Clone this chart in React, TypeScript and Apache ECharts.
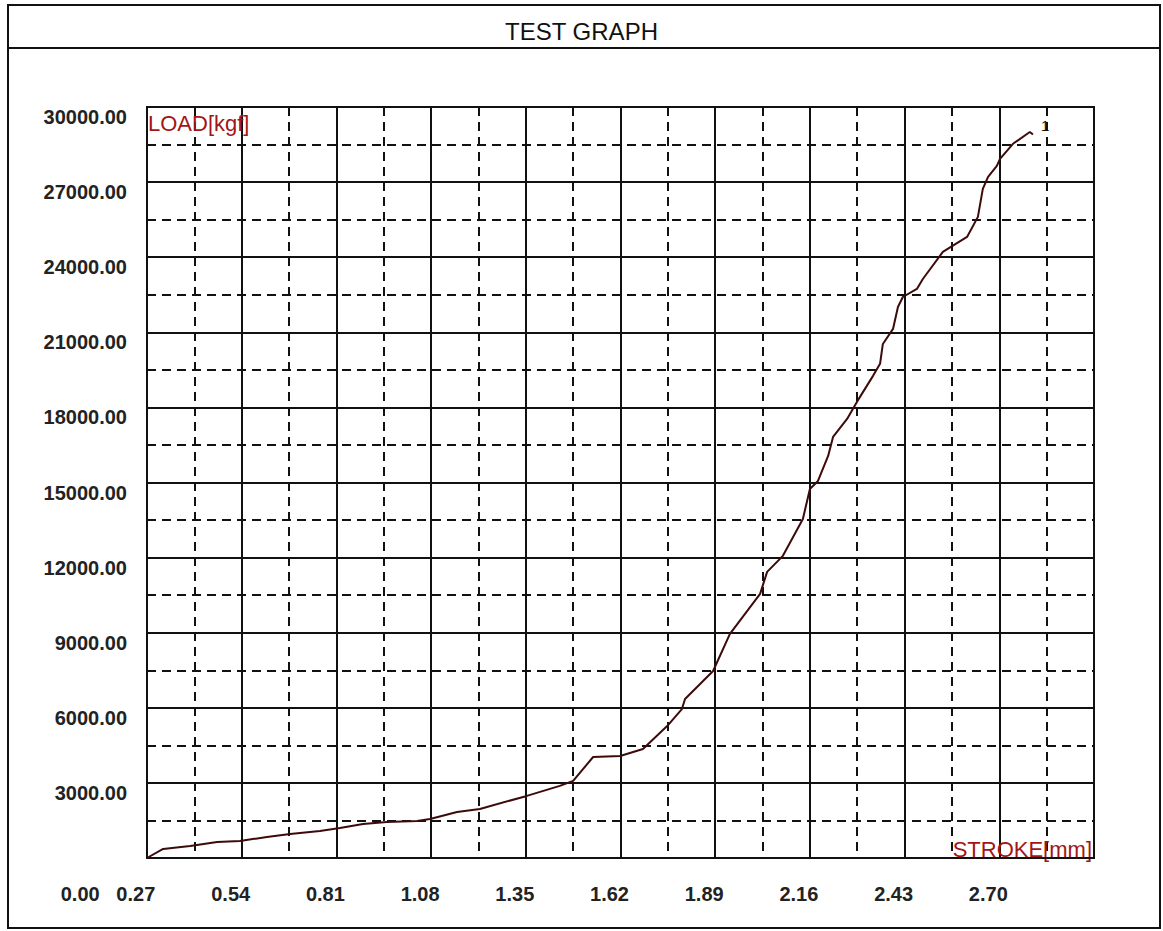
import React, { useEffect, useRef } from "react";
import * as echarts from "echarts";

const strokeMm = [
  0.27, 0.316, 0.393, 0.47, 0.535, 0.612, 0.678, 0.763, 0.82, 0.886, 0.954, 1.04, 1.077, 1.154,
  1.219, 1.353, 1.447, 1.485, 1.542, 1.619, 1.684, 1.753, 1.795, 1.804, 1.884, 1.932, 2.018,
  2.038, 2.083, 2.14, 2.16, 2.183, 2.212, 2.226, 2.266, 2.294, 2.34, 2.36, 2.368, 2.397, 2.411,
  2.425, 2.465, 2.482, 2.539, 2.608, 2.639, 2.653, 2.668, 2.693, 2.702, 2.739, 2.787, 2.796,
];
const loadKgf = [
  0, 360, 480, 640, 680, 840, 960, 1080, 1200, 1360, 1440, 1480, 1560, 1840,
  1960, 2480, 2880, 3080, 4035, 4075, 4355, 5270, 5950, 6350, 7470, 8950, 10550,
  11430, 12070, 13545, 14740, 15060, 16060, 16820, 17540, 18220, 19260, 19740, 20535, 21135, 22010,
  22410, 22730, 23130, 24210, 24810, 25610, 26730, 27210, 27650, 27930, 28530, 29000, 28900,
];

const titleText = "TEST GRAPH";
const yName = "LOAD[kgf]";
const xName = "STROKE[mm]";
const originLabel = "0.00";

const FONT = "'Liberation Sans', Arial, sans-serif";

export default function App() {
  const ref = useRef<HTMLDivElement>(null);
  useEffect(() => {
    if (!ref.current) return;
    const chart = echarts.init(ref.current, null, { renderer: "svg" });
    const data = strokeMm.map((x, i) => [x, loadKgf[i]]);
    chart.setOption({
      animation: false,
      backgroundColor: "#ffffff",
      title: {
        text: titleText,
        left: "center",
        top: 14,
        textStyle: { fontFamily: FONT, fontSize: 24, fontWeight: "normal", color: "#111" },
      },
      graphic: [
        {
          type: "rect",
          shape: { x: 8, y: 5, width: 1152, height: 923 },
          style: { fill: "none", stroke: "#111", lineWidth: 2 },
          silent: true,
        },
        {
          type: "line",
          shape: { x1: 8, y1: 48, x2: 1160, y2: 48 },
          style: { stroke: "#111", lineWidth: 2 },
          silent: true,
        },
      ],
      grid: {
        left: 147,
        top: 107,
        right: 69,
        bottom: 73,
        show: true,
        borderColor: "#111",
        borderWidth: 2,
      },
      xAxis: {
        type: "value",
        min: 0.27,
        max: 2.97,
        interval: 0.27,
        name: xName,
        nameLocation: "end",
        nameGap: -2,
        nameTextStyle: {
          fontFamily: FONT,
          fontSize: 22,
          color: "#a31515",
          align: "right",
          verticalAlign: "bottom",
          padding: [0, 0, -2, 0],
        },
        axisLine: { show: true, lineStyle: { color: "#111", width: 2 } },
        axisTick: { show: false },
        axisLabel: {
          margin: 26,
          fontFamily: FONT,
          fontSize: 20,
          fontWeight: "bold",
          color: "#222",
          padding: [0, 22, 0, 0],
          showMaxLabel: false,
          formatter: (v: number) => {
            if (v > 2.9) return "";
            if (Math.abs(v - 0.27) < 1e-6) return "{f|" + originLabel + "   " + v.toFixed(2) + "}";
            return v.toFixed(2);
          },
          rich: {
            f: {
              fontFamily: FONT,
              fontSize: 20,
              fontWeight: "bold",
              color: "#222",
              padding: [0, 56, 0, 0],
            },
          },
        },
        splitLine: { show: true, lineStyle: { color: "#111", width: 2 } },
        minorTick: { show: false, splitNumber: 2 },
        minorSplitLine: { show: true, lineStyle: { color: "#111", width: 2, type: [9, 6] } },
      },
      yAxis: {
        type: "value",
        min: 0,
        max: 30000,
        interval: 3000,
        name: yName,
        nameLocation: "end",
        nameGap: -5,
        nameTextStyle: {
          fontFamily: FONT,
          fontSize: 22,
          color: "#a31515",
          align: "left",
          verticalAlign: "top",
          padding: [0, 0, 0, 1],
        },
        axisLine: { show: true, lineStyle: { color: "#111", width: 2 } },
        axisTick: { show: false },
        axisLabel: {
          margin: 20,
          fontFamily: FONT,
          fontSize: 20,
          fontWeight: "bold",
          color: "#222",
          verticalAlign: "top",
          formatter: (v: number) => (v === 0 ? "" : v.toFixed(2)),
        },
        splitLine: { show: true, lineStyle: { color: "#111", width: 2 } },
        minorTick: { show: false, splitNumber: 2 },
        minorSplitLine: { show: true, lineStyle: { color: "#111", width: 2, type: [9, 6] } },
      },
      series: [
        {
          name: "1",
          type: "line",
          data,
          showSymbol: false,
          lineStyle: { color: "#3d0a0a", width: 2 },
          itemStyle: { color: "#3d0a0a" },
          endLabel: {
            show: true,
            formatter: "1",
            offset: [0, -9],
            fontFamily: FONT,
            fontSize: 15,
            color: "#111",
          },
        },
      ],
    });
    return () => chart.dispose();
  }, []);
  return (
    <div
      ref={ref}
      style={{ position: "fixed", left: 0, top: 0, width: 1163, height: 931, background: "#fff" }}
    />
  );
}
